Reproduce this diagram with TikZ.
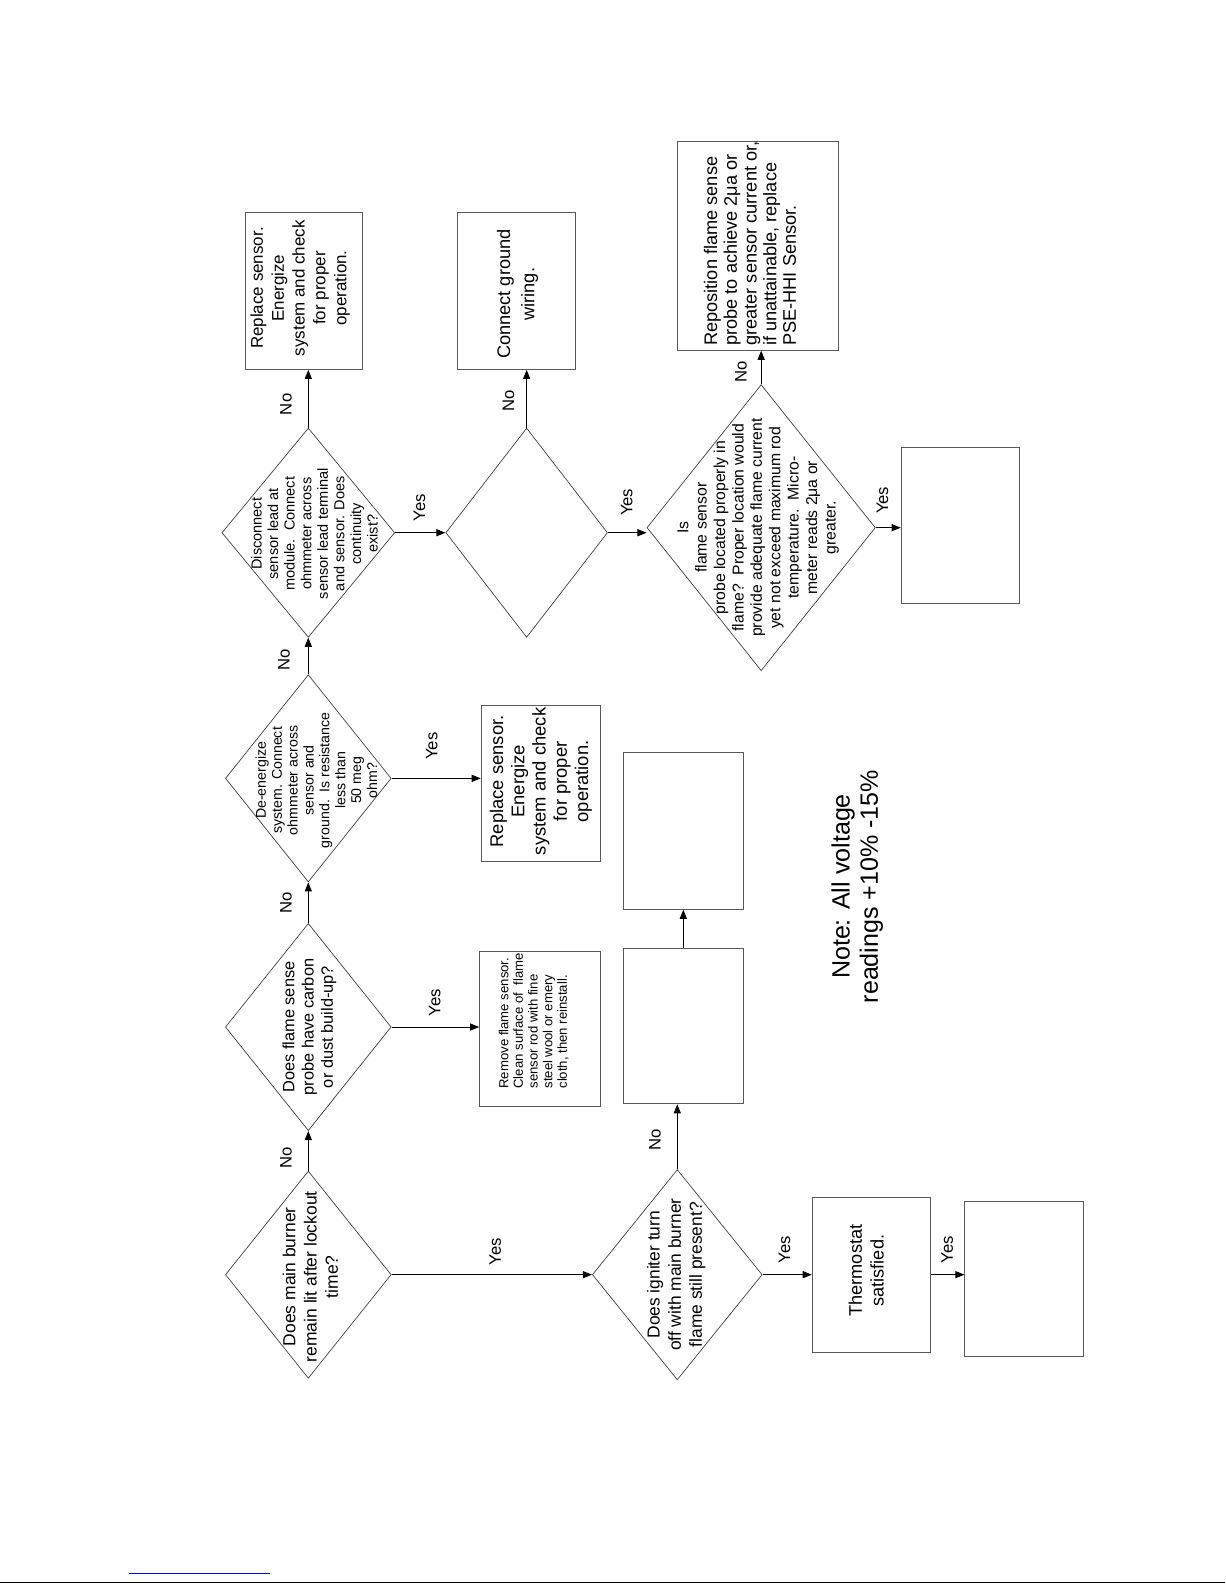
\documentclass[tikz,border=0pt]{standalone}
\usepackage{fontspec}
\setmainfont{Liberation Sans}
\usetikzlibrary{shapes.geometric,arrows.meta}
\tikzset{
 dia/.style={draw=black!75, line width=0.7pt, shape=diamond, inner sep=0pt},
 box/.style={draw=black!65, line width=0.8pt, rectangle, inner sep=0pt},
 txt/.style={rotate=90, align=center, font=\fontsize{17}{21}\selectfont, inner sep=0pt},
 lab/.style={rotate=90, font=\fontsize{16.5}{19}\selectfont, inner sep=0pt},
 arr/.style={draw=black, line width=0.9pt, -{Triangle[length=9pt,width=7pt]}},
}
\begin{document}
\begin{tikzpicture}[x=1pt,y=-1pt]
\useasboundingbox (0,0) rectangle (1212,1568);
% diamonds
\node[dia, minimum width=164pt, minimum height=205pt] (d1) at (305,1261) {};
\node[dia, minimum width=164pt, minimum height=205pt] (d2) at (305,1016) {};
\node[dia, minimum width=164pt, minimum height=205pt] (d3) at (305,770) {};
\node[dia, minimum width=171pt, minimum height=207pt] (d4) at (305,527) {};
\node[dia, minimum width=160pt, minimum height=207pt] (d5) at (521,527) {};
\node[dia, minimum width=226pt, minimum height=283pt] (d6) at (753,522) {};
\node[dia, minimum width=168pt, minimum height=208pt] (d7) at (670,1261) {};
% boxes
\node[box, minimum width=116pt, minimum height=155pt] (b4) at (301,288) {};
\node[box, minimum width=117pt, minimum height=155pt] (b5) at (511,288) {};
\node[box, minimum width=159pt, minimum height=207pt] (b6n) at (750,243) {};
\node[box, minimum width=117pt, minimum height=154pt] (b6y) at (950,520) {};
\node[box, minimum width=118pt, minimum height=154pt] (b3) at (535,775) {};
\node[box, minimum width=119pt, minimum height=154pt] (b2) at (534,1018) {};
\node[box, minimum width=118pt, minimum height=154pt] (b7n) at (676,1015) {};
\node[box, minimum width=118pt, minimum height=155pt] (b7nn) at (676,822) {};
\node[box, minimum width=117pt, minimum height=153pt] (bth) at (862,1261) {};
\node[box, minimum width=117pt, minimum height=153pt] (bend) at (1013,1265) {};
% texts
\node[txt, font=\fontsize{17.3}{21}\selectfont] (t1) at (307,1263) {Does main burner\\remain lit after lockout\\time?};
\node[txt, font=\fontsize{16.2}{19}\selectfont] (t2) at (306,1016) {Does flame sense\\probe have carbon\\or dust build-up?};
\node[txt, align=left, font=\fontsize{13}{14.5}\selectfont] (tb2) at (528,1010) {Remove flame sensor.\\Clean surface of\ \ flame\\sensor rod with fine\\steel wool or emery\\cloth, then reinstall.};
\node[txt, font=\fontsize{14}{15.7}\selectfont] (t3) at (313,772) {De-energize\\system. Connect\\ohmmeter across\\sensor and\\ground.\ \ Is resistance\\less than\\50 meg\\ohm?};
\node[txt, font=\fontsize{18.2}{21}\selectfont] (tb3) at (535,773) {Replace sensor.\\Energize\\system and check\\for proper\\operation.};
\node[txt, font=\fontsize{14.4}{16.4}\selectfont] (t4) at (311,528) {Disconnect\\sensor lead at\\module.\ \ Connect\\ohmmeter across\\sensor lead terminal\\and sensor. Does\\continuity\\exist?};
\node[txt, font=\fontsize{16.8}{20.6}\selectfont] (tb4) at (297,285) {Replace sensor.\\Energize\\system and check\\for proper\\operation.};
\node[txt, font=\fontsize{18}{24}\selectfont] (tb5) at (512,291) {Connect ground\\wiring.};
\node[txt, font=\fontsize{15.6}{18.2}\selectfont] (t6) at (750,522) {Is\\flame sensor\\probe located properly in\\flame?\ \ Proper location would\\provide adequate flame current\\yet not exceed maximum rod\\temperature.\ \ Micro-\\meter reads 2μa or\\greater.};
\node[txt, align=left, font=\fontsize{18}{19.5}\selectfont] (tb6n) at (742,241) {Reposition flame sense\\probe to achieve 2μa or\\greater sensor current or,\\if unattainable, replace\\PSE-HHI Sensor.};
\node[txt, font=\fontsize{17.2}{21}\selectfont] (t7) at (669,1261) {Does igniter turn\\off with main burner\\flame still present?};
\node[txt, font=\fontsize{18}{21.5}\selectfont] (tth) at (857,1257) {Thermostat\\satisfied.};
\node[txt, font=\fontsize{24.8}{28}\selectfont] (note) at (848,877) {Note: All voltage\\readings +10\% -15\%};
% connectors
\draw[arr] (d1.north) -- (d2.south);
\draw[arr] (d2.east) -- (d2.east -| b2.west);
\draw[arr] (d2.north) -- (d3.south);
\draw[arr] (d3.east) -- (d3.east -| b3.west);
\draw[arr] (d3.north) -- (d4.south);
\draw[arr] (d4.north) -- (d4.north |- b4.south);
\draw[arr] (d4.east) -- (d5.west);
\draw[arr] (d5.north) -- (d5.north |- b5.south);
\draw[arr] (d5.east) -- (d5.east -| d6.west);
\draw[arr] (d6.north) -- (d6.north |- b6n.south);
\draw[arr] (d6.east) -- (d6.east -| b6y.west);
\draw[arr] (d1.east) -- (d7.west);
\draw[arr] (d7.north) -- (d7.north |- b7n.south);
\draw[arr] (b7n.north) -- (b7nn.south);
\draw[arr] (d7.east) -- (d7.east -| bth.west);
\draw[arr] (bth.east) -- (bth.east -| bend.west);
% labels
\node[lab] (l1) at (283,1145) {No};
\node[lab] (l2) at (430,992) {Yes};
\node[lab] (l3) at (283,893) {No};
\node[lab] (l4) at (427,738) {Yes};
\node[lab] (l5) at (281,653) {No};
\node[lab] (l6) at (283,400) {No};
\node[lab] (l7) at (415,502) {Yes};
\node[lab] (l8) at (503,397) {No};
\node[lab] (l9) at (620,497) {Yes};
\node[lab] (l10) at (733,368) {No};
\node[lab] (l11) at (873,495) {Yes};
\node[lab] (l12) at (490,1238) {Yes};
\node[lab] (l13) at (648,1128) {No};
\node[lab] (l14) at (776,1236) {Yes};
\node[lab] (l15) at (937,1236) {Yes};
% page footer rules
\draw[blue, line width=0.8pt] (128,1557) -- (267,1557);
\draw[black, line width=0.8pt] (0,1565) -- (1212,1565);
\end{tikzpicture}
\end{document}
